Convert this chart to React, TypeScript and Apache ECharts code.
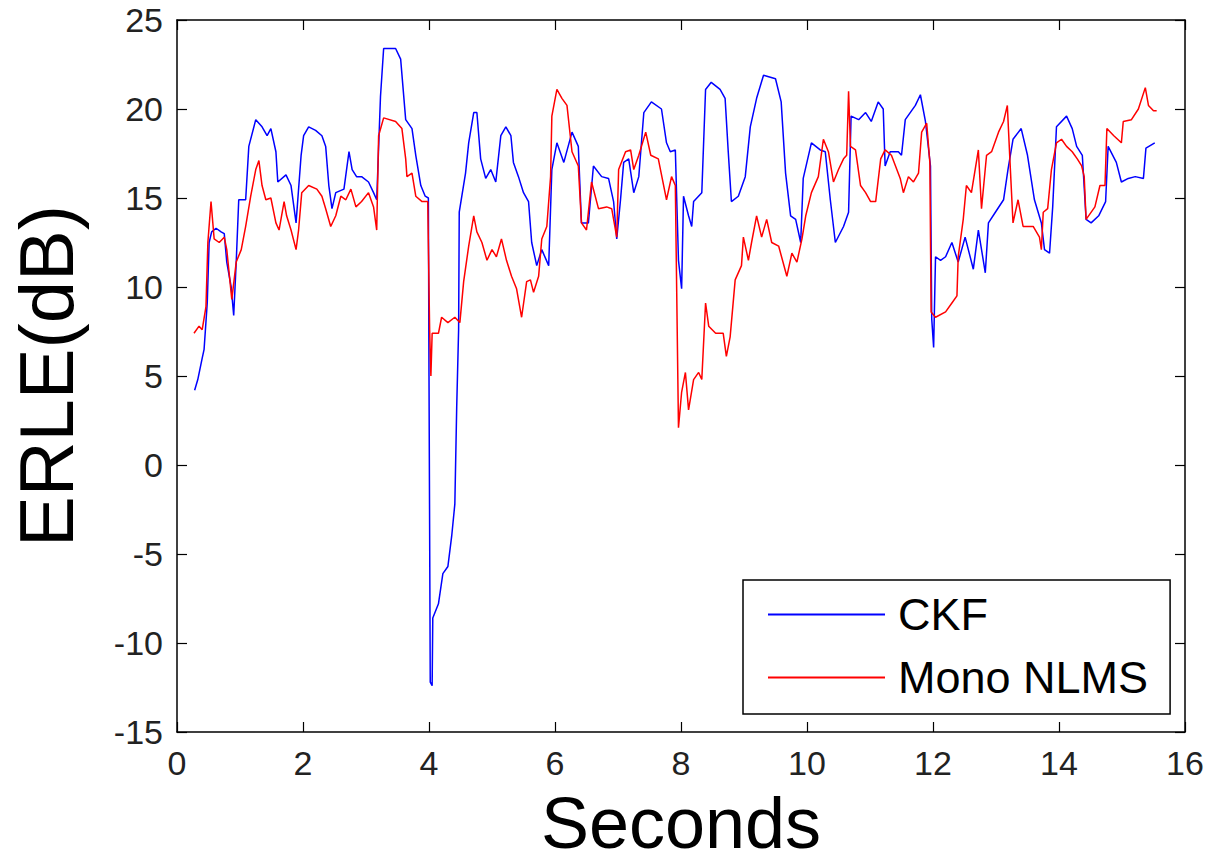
import React, { useEffect, useRef } from "react";
import * as echarts from "echarts";

const seriesNames = ["CKF", "Mono NLMS"];
const xTicks = { min: 0, max: 16, interval: 2 };
const yTicks = { min: -15, max: 25, interval: 5 };

// CKF: [seconds, ERLE dB]
const ckfPoints: [number, number][] = [
  [0.28, 4.2], [0.33, 4.8], [0.40, 6.0], [0.43, 6.5], [0.48, 9.1], [0.51, 12.5], [0.55, 13.1], [0.62, 13.3],
  [0.70, 13.1], [0.75, 13.0], [0.79, 11.4], [0.86, 10.0], [0.90, 8.4], [0.94, 11.4], [0.98, 14.9], [1.09, 14.9],
  [1.14, 17.9], [1.25, 19.4], [1.35, 19.0], [1.43, 18.5], [1.49, 18.9], [1.57, 17.6], [1.60, 15.9], [1.73, 16.3],
  [1.81, 15.7], [1.89, 13.6], [1.97, 17.4], [2.01, 18.5], [2.09, 19.0], [2.20, 18.8], [2.30, 18.5], [2.36, 17.9],
  [2.41, 15.7], [2.46, 14.4], [2.52, 15.3], [2.65, 15.5], [2.73, 17.6], [2.78, 16.6], [2.85, 16.2], [2.93, 16.2],
  [3.04, 15.9], [3.12, 15.3], [3.17, 14.9], [3.23, 20.7], [3.28, 23.4], [3.47, 23.4], [3.55, 22.8], [3.63, 19.4],
  [3.73, 18.9], [3.79, 17.4], [3.87, 15.7], [3.94, 15.1], [3.99, 15.0], [4.00, 5.0], [4.02, -12.2], [4.05, -12.4],
  [4.06, -8.6], [4.15, -7.8], [4.22, -6.1], [4.30, -5.7], [4.36, -4.0], [4.41, -2.2], [4.44, 3.3], [4.47, 7.6],
  [4.48, 14.2], [4.58, 16.4], [4.63, 18.1], [4.71, 19.8], [4.76, 19.8], [4.82, 17.2], [4.90, 16.1], [4.98, 16.6],
  [5.06, 15.9], [5.14, 18.5], [5.22, 19.0], [5.30, 18.5], [5.34, 17.0], [5.42, 16.2], [5.50, 15.3], [5.58, 14.8],
  [5.63, 12.5], [5.71, 11.2], [5.79, 12.1], [5.90, 11.2], [5.95, 16.6], [6.03, 18.1], [6.14, 17.0], [6.27, 18.7],
  [6.37, 17.9], [6.42, 13.6], [6.53, 13.6], [6.61, 16.8], [6.74, 16.2], [6.85, 16.1], [6.93, 14.8], [6.98, 12.7],
  [7.04, 14.9], [7.09, 17.0], [7.17, 17.2], [7.25, 15.3], [7.33, 16.2], [7.41, 19.8], [7.53, 20.4], [7.69, 20.0],
  [7.77, 18.1], [7.83, 17.6], [7.91, 17.7], [7.96, 11.5], [8.01, 9.9], [8.04, 15.1], [8.12, 14.0], [8.17, 13.4],
  [8.20, 14.8], [8.33, 15.3], [8.39, 21.1], [8.48, 21.5], [8.62, 21.1], [8.70, 20.6], [8.75, 17.6], [8.80, 14.8],
  [8.91, 15.1], [9.02, 16.2], [9.10, 19.0], [9.20, 20.6], [9.31, 21.9], [9.50, 21.7], [9.59, 20.4], [9.66, 16.4],
  [9.74, 14.0], [9.82, 13.8], [9.90, 12.5], [9.94, 16.1], [10.07, 18.1], [10.21, 17.7], [10.29, 17.6], [10.37, 14.9],
  [10.45, 12.5], [10.58, 13.4], [10.66, 14.2], [10.70, 19.6], [10.82, 19.4], [10.93, 19.8], [11.02, 19.3], [11.13, 20.4],
  [11.21, 20.0], [11.24, 16.8], [11.32, 17.6], [11.45, 17.6], [11.50, 17.4], [11.56, 19.4], [11.72, 20.2], [11.80, 20.8],
  [11.88, 19.3], [11.96, 16.8], [11.98, 8.2], [12.01, 6.6], [12.04, 11.7], [12.12, 11.5], [12.20, 11.7], [12.30, 12.5],
  [12.40, 11.4], [12.51, 12.8], [12.64, 11.0], [12.72, 13.2], [12.83, 10.8], [12.88, 13.6], [12.99, 14.2], [13.12, 14.9],
  [13.19, 16.6], [13.27, 18.3], [13.40, 18.9], [13.50, 17.4], [13.61, 14.9], [13.72, 13.6], [13.77, 12.1], [13.85, 11.9],
  [13.90, 14.5], [13.96, 19.0], [14.12, 19.6], [14.21, 18.9], [14.28, 17.9], [14.37, 17.4], [14.43, 13.8], [14.51, 13.6],
  [14.63, 14.0], [14.74, 14.8], [14.78, 17.9], [14.91, 17.0], [14.99, 15.9], [15.10, 16.1], [15.21, 16.2], [15.34, 16.1],
  [15.38, 17.8], [15.52, 18.1],
];

// Mono NLMS: [seconds, ERLE dB]
const nlmsPoints: [number, number][] = [
  [0.27, 7.4], [0.35, 7.8], [0.40, 7.6], [0.46, 8.9], [0.49, 12.5], [0.54, 14.8], [0.59, 12.7], [0.67, 12.5],
  [0.75, 12.8], [0.79, 12.1], [0.87, 9.3], [0.94, 11.4], [1.02, 12.1], [1.09, 13.4], [1.17, 15.1], [1.25, 16.6],
  [1.30, 17.1], [1.35, 15.7], [1.41, 14.9], [1.49, 15.0], [1.57, 13.6], [1.62, 13.2], [1.70, 14.8], [1.74, 14.0],
  [1.81, 13.2], [1.89, 12.1], [1.93, 13.2], [1.98, 15.3], [2.09, 15.7], [2.22, 15.5], [2.30, 15.1], [2.36, 14.4],
  [2.44, 13.4], [2.52, 14.0], [2.60, 15.1], [2.68, 14.9], [2.76, 15.5], [2.84, 14.5], [2.93, 14.8], [3.04, 15.3],
  [3.12, 14.5], [3.17, 13.2], [3.20, 18.5], [3.28, 19.5], [3.47, 19.3], [3.57, 18.9], [3.63, 17.2], [3.65, 16.2],
  [3.73, 16.4], [3.79, 15.1], [3.89, 14.8], [3.98, 14.8], [4.01, 7.6], [4.03, 5.0], [4.05, 7.4], [4.15, 7.4],
  [4.20, 8.3], [4.30, 8.0], [4.41, 8.3], [4.49, 8.0], [4.55, 10.3], [4.63, 12.3], [4.71, 14.0], [4.76, 13.1],
  [4.84, 12.5], [4.92, 11.5], [5.00, 12.1], [5.07, 11.7], [5.15, 12.7], [5.23, 11.5], [5.31, 10.6], [5.39, 9.9],
  [5.47, 8.3], [5.55, 10.3], [5.61, 10.4], [5.66, 9.7], [5.74, 10.6], [5.79, 12.7], [5.87, 13.4], [5.93, 16.2],
  [5.95, 19.6], [6.03, 21.1], [6.11, 20.6], [6.19, 20.2], [6.27, 17.6], [6.37, 16.8], [6.42, 13.6], [6.50, 13.2],
  [6.58, 15.9], [6.69, 14.4], [6.82, 14.5], [6.90, 14.4], [6.98, 12.8], [7.01, 16.6], [7.12, 17.6], [7.20, 17.7],
  [7.25, 16.6], [7.33, 17.4], [7.44, 18.7], [7.52, 17.4], [7.64, 17.2], [7.77, 14.9], [7.85, 16.2], [7.91, 15.7],
  [7.96, 2.1], [8.01, 4.1], [8.07, 5.2], [8.12, 3.1], [8.20, 4.8], [8.28, 5.2], [8.33, 4.8], [8.39, 9.1],
  [8.44, 7.8], [8.55, 7.4], [8.67, 7.4], [8.72, 6.1], [8.78, 7.2], [8.86, 10.4], [8.96, 11.2], [8.99, 12.8],
  [9.07, 11.5], [9.12, 12.5], [9.20, 14.0], [9.28, 12.8], [9.36, 13.8], [9.44, 12.5], [9.55, 12.3], [9.68, 10.6],
  [9.76, 11.9], [9.84, 11.4], [9.92, 12.7], [9.98, 14.0], [10.07, 15.3], [10.18, 16.2], [10.26, 18.3], [10.34, 17.6],
  [10.42, 15.9], [10.50, 16.6], [10.58, 17.2], [10.63, 17.4], [10.66, 21.0], [10.69, 17.9], [10.77, 17.7], [10.85, 15.7],
  [10.93, 15.3], [11.01, 14.8], [11.09, 14.8], [11.17, 17.2], [11.24, 17.7], [11.34, 17.4], [11.48, 16.1], [11.53, 15.3],
  [11.61, 16.2], [11.69, 15.9], [11.77, 16.4], [11.82, 18.7], [11.90, 19.2], [11.95, 17.0], [11.97, 8.6], [12.04, 8.3],
  [12.20, 8.6], [12.30, 9.1], [12.38, 9.5], [12.40, 11.7], [12.48, 13.8], [12.53, 15.7], [12.61, 15.3], [12.72, 17.7],
  [12.77, 14.4], [12.85, 17.4], [12.93, 17.6], [13.04, 18.7], [13.12, 19.3], [13.18, 20.2], [13.22, 17.2], [13.27, 13.6],
  [13.35, 14.9], [13.43, 13.4], [13.59, 13.4], [13.69, 12.8], [13.72, 12.1], [13.75, 14.2], [13.82, 14.4], [13.88, 16.6],
  [13.96, 18.1], [14.04, 18.3], [14.12, 17.9], [14.21, 17.6], [14.29, 17.2], [14.36, 16.8], [14.40, 16.2], [14.43, 13.8],
  [14.57, 14.5], [14.65, 15.7], [14.73, 15.7], [14.76, 18.9], [14.87, 18.5], [14.99, 18.1], [15.02, 19.3], [15.15, 19.4],
  [15.26, 20.0], [15.37, 21.2], [15.42, 20.2], [15.50, 19.9], [15.55, 19.9],
];

const FONT = "'Liberation Sans', Arial, Helvetica, sans-serif";

export default function App() {
  const ref = useRef<HTMLDivElement>(null);

  useEffect(() => {
    if (!ref.current) return;
    const chart = echarts.init(ref.current, undefined, { renderer: "svg" });
    const axisLine = { show: true, onZero: false, lineStyle: { color: "#000", width: 1.5 } };
    const axisTick = { show: true, inside: true, length: 10, lineStyle: { color: "#000", width: 1.2 } };

    chart.setOption({
      animation: false,
      backgroundColor: "#fff",
      grid: {
        left: 177,
        right: 26,
        top: 20,
        bottom: 132,
        containLabel: false,
        outerBoundsMode: "none",
      },
      legend: {
        data: seriesNames,
        orient: "vertical",
        left: 743,
        top: 580,
        padding: [12, 22, 14, 25],
        itemGap: 18,
        itemWidth: 117,
        itemHeight: 2,
        icon: "rect",
        backgroundColor: "#fff",
        borderColor: "#000",
        borderWidth: 1.5,
        borderRadius: 0,
        textStyle: { fontFamily: FONT, fontSize: 45, color: "#000", padding: [0, 0, 0, 8] },
      },
      xAxis: [
        {
          type: "value",
          min: xTicks.min,
          max: xTicks.max,
          interval: xTicks.interval,
          name: "Seconds",
          nameLocation: "middle",
          nameGap: 55,
          nameTextStyle: { fontFamily: FONT, fontSize: 72, color: "#000" },
          axisLine,
          axisTick,
          splitLine: { show: false },
          axisLabel: { fontFamily: FONT, fontSize: 34, color: "#222", margin: 14 },
        },
        {
          type: "value",
          position: "top",
          min: xTicks.min,
          max: xTicks.max,
          interval: xTicks.interval,
          axisLine,
          axisTick,
          splitLine: { show: false },
          axisLabel: { show: false },
        },
      ],
      yAxis: [
        {
          type: "value",
          min: yTicks.min,
          max: yTicks.max,
          interval: yTicks.interval,
          name: "ERLE(dB)",
          nameLocation: "middle",
          nameGap: 93,
          nameTextStyle: { fontFamily: FONT, fontSize: 76, color: "#000" },
          axisLine,
          axisTick,
          splitLine: { show: false },
          axisLabel: { fontFamily: FONT, fontSize: 34, color: "#222", margin: 14 },
        },
        {
          type: "value",
          position: "right",
          min: yTicks.min,
          max: yTicks.max,
          interval: yTicks.interval,
          axisLine,
          axisTick,
          splitLine: { show: false },
          axisLabel: { show: false },
        },
      ],
      series: [
        {
          name: seriesNames[0],
          type: "line",
          xAxisIndex: 0,
          yAxisIndex: 0,
          data: ckfPoints,
          symbol: "none",
          lineStyle: { color: "#0000ff", width: 1.5 },
          itemStyle: { color: "#0000ff" },
          z: 2,
        },
        {
          name: seriesNames[1],
          type: "line",
          xAxisIndex: 0,
          yAxisIndex: 0,
          data: nlmsPoints,
          symbol: "none",
          lineStyle: { color: "#ff0000", width: 1.5 },
          itemStyle: { color: "#ff0000" },
          z: 3,
        },
      ],
    });
    return () => chart.dispose();
  }, []);

  return <div ref={ref} style={{ position: "fixed", left: 0, top: 0, width: 1211, height: 864 }} />;
}
